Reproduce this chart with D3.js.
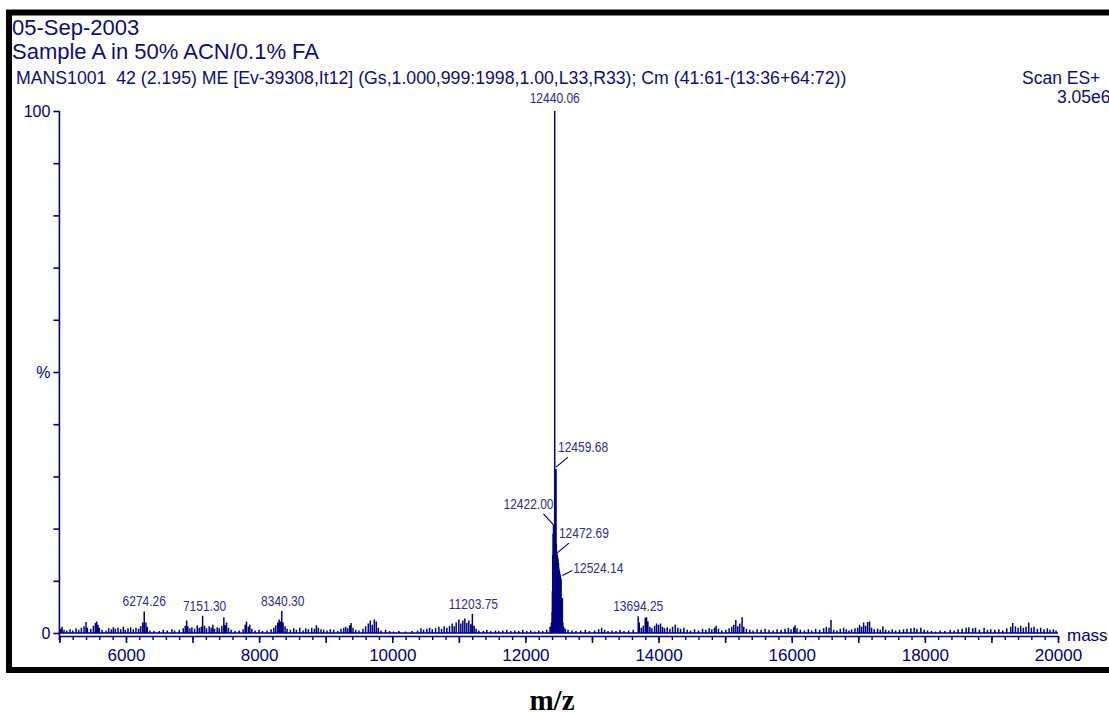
<!DOCTYPE html>
<html>
<head>
<meta charset="utf-8">
<script src="https://cdn.jsdelivr.net/npm/d3@7"></script>
<style>
body { margin: 0; background: #fff; }
svg { display: block; }
text { font-family: "Liberation Sans", Arial, sans-serif; }
</style>
</head>
<body>
<svg id="chart" width="1109" height="715"></svg>
<script>
// header texts
var headerLines = ["05-Sep-2003", "Sample A in 50% ACN/0.1% FA"];
var scanInfo = "MANS1001  42 (2.195) ME [Ev-39308,It12] (Gs,1.000,999:1998,1.00,L33,R33); Cm (41:61-(13:36+64:72))";
var scanMode = "Scan ES+";
var scanMax = "3.05e6";

// axes
var massRange = [5000, 20000];
var massTicks = [6000, 8000, 10000, 12000, 14000, 16000, 18000, 20000];
var pctTicks = [0, 50, 100];
var pctTickText = ["0", "%", "100"];
var xUnit = "mass";
var xTitle = "m/z";

// spectrum sticks [mass, % intensity]
var spectrum = [
  [5020,0.8],[5040,1.2],[5070,0.6],[5110,0.5],[5160,0.7],[5200,0.5],[5250,0.9],[5290,0.6],[5330,1.0],[5370,1.3],
  [5400,2.1],[5420,1.0],[5470,0.8],[5510,1.4],[5540,1.9],[5560,2.2],[5580,1.6],[5600,1.0],[5640,0.6],[5700,0.5],
  [5740,0.9],[5780,0.7],[5810,1.1],[5840,0.8],[5880,1.0],[5920,0.7],[5960,1.2],[5990,0.6],
  [6030,0.9],[6070,1.1],[6110,0.7],[6150,1.0],[6190,0.8],[6220,1.3],[6250,2.0],[6274.26,4.1],[6300,2.0],[6320,1.2],
  [6360,0.5],[6420,0.4],[6500,0.4],[6560,0.6],[6620,0.5],[6690,0.7],[6730,0.5],[6800,0.6],[6860,0.9],[6890,1.4],
  [6912,2.4],[6930,1.3],[6960,0.9],[6990,1.1],
  [7030,0.8],[7070,1.5],[7100,1.0],[7130,1.2],[7151.30,3.3],[7180,1.4],[7210,0.9],[7250,1.3],[7280,1.0],[7305,1.6],
  [7330,0.8],[7370,1.1],[7400,0.9],[7440,1.4],[7470,3.0],[7490,1.5],[7510,2.0],[7540,1.0],[7580,0.6],[7640,0.4],
  [7700,0.5],[7760,0.7],[7790,1.6],[7810,2.2],[7840,1.2],[7860,1.6],[7890,0.8],[7940,0.5],
  [8000,0.6],[8050,0.4],[8120,0.5],[8180,0.7],[8220,1.0],[8250,1.5],[8280,2.0],[8300,2.6],[8320,2.2],[8340.30,4.2],
  [8360,2.0],[8390,1.3],[8420,0.8],[8470,0.6],[8520,0.9],[8560,0.6],[8610,1.0],[8660,0.5],[8700,0.9],[8740,0.7],
  [8790,1.0],[8830,0.8],[8860,1.5],[8890,1.0],[8930,0.7],[8970,0.6],
  [9020,0.5],[9070,0.7],[9120,0.6],[9180,0.4],[9230,0.8],[9270,1.0],[9300,1.2],[9330,0.9],[9360,1.5],[9382,1.9],
  [9410,1.0],[9450,0.6],[9500,0.5],[9560,0.8],[9600,1.3],[9640,1.8],[9670,2.4],[9700,1.6],[9730,2.6],[9760,2.2],
  [9790,1.0],[9830,0.5],[9900,0.6],[9960,0.4],
  [10020,0.3],[10100,0.4],[10200,0.3],[10300,0.4],[10380,0.5],[10430,0.9],[10470,0.6],[10520,0.8],[10560,1.0],
  [10600,0.7],[10650,0.9],[10700,1.2],[10740,0.8],[10780,1.3],[10820,1.0],[10860,1.4],[10900,1.8],[10930,1.3],[10960,2.0],
  [11000,2.6],[11030,1.8],[11060,2.4],[11090,2.8],[11120,1.9],[11150,2.4],[11180,1.7],[11203.75,3.7],[11230,1.4],
  [11260,0.8],[11300,0.5],[11370,0.4],[11420,0.6],[11480,0.4],[11550,0.5],[11600,0.4],[11660,0.5],[11720,0.6],
  [11780,0.4],[11840,0.5],[11900,0.4],[11960,0.6],
  [12020,0.4],[12080,0.5],[12140,0.3],[12200,0.5],[12260,0.4],[12320,0.6],[12370,1.2],[12390,2.0],[12400,4.0],
  [12405,8.0],[12410,15.0],[12415,19.0],[12422.00,20.7],[12428,20.0],[12434,20.5],[12440.06,100],[12446,27.0],
  [12452,29.0],[12459.68,31.4],[12465,17.0],[12472.69,15.3],[12478,15.0],[12484,14.6],[12490,14.2],[12496,13.5],
  [12502,12.6],[12508,12.0],[12514,11.6],[12520,11.2],[12524.14,11.0],[12530,10.6],[12536,10.2],[12542,4.0],
  [12548,3.0],[12555,6.7],[12562,2.0],[12575,1.2],[12600,0.8],[12640,0.6],[12700,0.5],[12760,0.4],[12830,0.5],
  [12900,0.6],[12960,0.4],
  [13040,0.5],[13100,0.7],[13145,1.0],[13190,0.6],[13240,0.4],[13300,0.5],[13360,0.4],[13420,0.6],[13480,0.4],
  [13550,0.5],[13620,0.6],[13694.25,3.2],[13710,2.0],[13740,1.0],[13770,1.4],[13800,2.9],[13820,3.0],[13840,2.2],
  [13870,1.2],[13900,0.9],[13940,1.4],[13970,1.8],[14000,1.6],[14030,1.8],[14060,1.2],[14090,0.9],
  [14130,1.1],[14170,0.8],[14210,1.2],[14250,1.6],[14290,1.0],[14330,0.8],[14380,1.0],[14430,0.6],[14480,0.5],
  [14540,0.7],[14600,0.5],[14660,0.8],[14710,0.6],[14760,0.9],[14800,0.7],[14840,1.0],[14865,1.4],[14900,0.8],[14950,0.5],
  [15010,0.6],[15060,0.9],[15100,1.2],[15130,1.6],[15160,2.5],[15190,1.3],[15220,1.8],[15255,3.0],[15280,1.2],
  [15320,0.8],[15370,0.6],[15420,0.5],[15480,0.7],[15540,0.6],[15600,0.8],[15660,0.6],[15720,0.5],[15780,0.7],
  [15840,0.6],[15900,0.8],[15950,1.0],[15990,0.7],
  [16030,1.1],[16050,1.5],[16080,0.9],[16130,0.6],[16190,0.5],[16250,0.7],[16300,0.5],[16360,0.8],[16420,0.6],
  [16480,0.9],[16520,1.2],[16560,1.0],[16590,2.5],[16630,0.6],[16680,0.5],[16730,0.8],[16780,1.0],[16820,0.7],
  [16860,0.5],[16900,0.7],[16950,0.9],[16990,1.0],
  [17020,1.6],[17050,1.2],[17080,2.0],[17110,1.4],[17140,2.1],[17170,2.2],[17200,1.0],[17240,0.7],[17290,0.8],
  [17330,0.6],[17370,1.3],[17410,0.6],[17460,0.5],[17510,0.7],[17560,0.5],[17620,0.6],[17680,0.7],[17730,0.8],
  [17790,0.9],[17840,1.0],[17880,0.8],[17940,1.0],[17990,0.6],
  [18040,0.5],[18100,0.4],[18160,0.3],[18230,0.5],[18300,0.4],[18380,0.6],[18440,0.5],[18500,0.7],[18560,0.8],
  [18620,1.0],[18660,1.1],[18720,0.9],[18760,1.0],[18820,0.6],[18890,1.0],[18940,0.6],[18990,0.7],
  [19050,0.6],[19110,0.7],[19170,0.5],[19230,0.9],[19290,1.2],[19320,1.9],[19360,1.3],[19400,1.0],[19440,1.4],
  [19480,1.0],[19520,1.2],[19560,2.0],[19600,1.0],[19640,1.2],[19690,0.8],[19740,1.0],[19790,0.7],[19840,0.9],
  [19880,0.6],[19930,0.7],[19970,0.5]
];

// labelled peaks
var peakLabels = [
  {mass: 12440.06, pct: 100,  text: "12440.06"},
  {mass: 12459.68, pct: 31.4, text: "12459.68"},
  {mass: 12422.00, pct: 20.7, text: "12422.00"},
  {mass: 12472.69, pct: 15.3, text: "12472.69"},
  {mass: 12524.14, pct: 11.0, text: "12524.14"},
  {mass: 6274.26,  pct: 4.1,  text: "6274.26"},
  {mass: 7151.30,  pct: 3.3,  text: "7151.30"},
  {mass: 8340.30,  pct: 4.2,  text: "8340.30"},
  {mass: 11203.75, pct: 3.7,  text: "11203.75"},
  {mass: 13694.25, pct: 3.2,  text: "13694.25"}
];

// where each label sits relative to its stick top (layout only)
var labelLayout = {
  "12440.06": {dx: 0,  dy: -8,  anchor: "middle"},
  "12459.68": {dx: 2,  dy: -17, anchor: "start", leader: [[0, -2], [12, -12]]},
  "12422.00": {dx: 0,  dy: -16, anchor: "end",   leader: [[-10, -11], [0, 0]]},
  "12472.69": {dx: 2,  dy: -15, anchor: "start", leader: [[0, 0], [12, -10]]},
  "12524.14": {dx: 13, dy: -3,  anchor: "start", leader: [[2, 0], [12, -5]]},
  "6274.26":  {dx: 0,  dy: -6,  anchor: "middle"},
  "7151.30":  {dx: 2,  dy: -5,  anchor: "middle"},
  "8340.30":  {dx: 1,  dy: -5,  anchor: "middle"},
  "11203.75": {dx: 1,  dy: -5,  anchor: "middle"},
  "13694.25": {dx: 0,  dy: -5,  anchor: "middle"}
};

var navy = "#000080";
var textNavy = "#0d0d80";
var labelNavy = "#2e2e92";

var svg = d3.select("#chart");

// outer frame
svg.append("rect")
    .attr("x", 9).attr("y", 12.5)
    .attr("width", 1120).attr("height", 657.5)
    .attr("fill", "none")
    .attr("stroke", "#000")
    .attr("stroke-width", 6);

var x = d3.scaleLinear().domain(massRange).range([59.4, 1058]);
var y = d3.scaleLinear().domain([0, 100]).range([633, 111]);

// header
svg.selectAll(".head")
    .data(headerLines)
    .enter().append("text")
    .attr("class", "head")
    .attr("x", 12)
    .attr("y", function(d, i) { return 35 + i * 24; })
    .style("font-size", "22px")
    .style("fill", textNavy)
    .text(function(d) { return d; });

svg.append("text")
    .attr("x", 16).attr("y", 84)
    .attr("xml:space", "preserve")
    .style("white-space", "pre")
    .style("font-size", "17.7px")
    .style("fill", textNavy)
    .text(scanInfo);

svg.append("text")
    .attr("x", 1022).attr("y", 84)
    .style("font-size", "17.5px")
    .style("fill", textNavy)
    .text(scanMode);

svg.append("text")
    .attr("x", 1057).attr("y", 103)
    .style("font-size", "17.5px")
    .style("fill", textNavy)
    .text(scanMax);

// y axis
var yAxis = svg.append("g")
    .attr("transform", "translate(59.4,0)")
    .call(d3.axisLeft(y)
        .tickValues(d3.range(0, 101, 10))
        .tickSize(6)
        .tickSizeOuter(0)
        .tickPadding(3)
        .tickFormat(function(d) {
            var i = pctTicks.indexOf(d);
            return i < 0 ? "" : pctTickText[i];
        }));
yAxis.selectAll("path, line").attr("stroke", navy).attr("stroke-width", 1.6);
yAxis.select(".domain").attr("d", "M0," + y(100) + "V" + 640);
yAxis.selectAll("text")
    .style("font-size", "16px")
    .style("font-family", "'Liberation Sans', Arial, sans-serif")
    .attr("fill", navy);

// x axis: minor ticks every 200, long every 1000, labels every 2000
var axisY = 636;
var minorAxis = svg.append("g")
    .attr("transform", "translate(0," + axisY + ")")
    .call(d3.axisBottom(x)
        .tickValues(d3.range(massRange[0], massRange[1] + 1, 200))
        .tickSize(4)
        .tickSizeOuter(0)
        .tickFormat(""));
minorAxis.selectAll("path, line").attr("stroke", navy).attr("stroke-width", 1.4);

var majorAxis = svg.append("g")
    .attr("transform", "translate(0," + axisY + ")")
    .call(d3.axisBottom(x)
        .tickValues(d3.range(massRange[0], massRange[1] + 1, 1000))
        .tickSize(7)
        .tickSizeOuter(0)
        .tickPadding(6)
        .tickFormat(function(d) { return massTicks.indexOf(d) >= 0 ? d : ""; }));
majorAxis.select(".domain").remove();
majorAxis.selectAll("line").attr("stroke", navy).attr("stroke-width", 1.6);
majorAxis.selectAll("text")
    .style("font-size", "17px")
    .style("font-family", "'Liberation Sans', Arial, sans-serif")
    .attr("fill", navy);

svg.append("text")
    .attr("x", x(massRange[1]) + 9).attr("y", 641)
    .style("font-size", "17px")
    .style("fill", navy)
    .text(xUnit);

// spectrum baseline + sticks
svg.append("line")
    .attr("x1", x(massRange[0])).attr("x2", x(massRange[1]))
    .attr("y1", y(0)).attr("y2", y(0))
    .attr("stroke", navy)
    .attr("stroke-width", 1.6);

svg.append("path")
    .attr("d", spectrum.map(function(d) {
        return "M" + x(d[0]).toFixed(2) + "," + y(0) + "V" + y(d[1]).toFixed(2);
    }).join(""))
    .attr("stroke", navy)
    .attr("stroke-width", 1.5)
    .attr("fill", "none");

// peak labels
var lab = svg.selectAll(".peak")
    .data(peakLabels)
    .enter().append("g")
    .attr("class", "peak")
    .attr("transform", function(d) { return "translate(" + x(d.mass) + "," + y(d.pct) + ")"; });

lab.filter(function(d) { return labelLayout[d.text].leader; })
    .append("line")
    .attr("x1", function(d) { return labelLayout[d.text].leader[0][0]; })
    .attr("y1", function(d) { return labelLayout[d.text].leader[0][1]; })
    .attr("x2", function(d) { return labelLayout[d.text].leader[1][0]; })
    .attr("y2", function(d) { return labelLayout[d.text].leader[1][1]; })
    .attr("stroke", navy)
    .attr("stroke-width", 1.2);

lab.append("text")
    .attr("transform", function(d) {
        var l = labelLayout[d.text];
        return "translate(" + l.dx + "," + l.dy + ") scale(0.8,1)";
    })
    .attr("text-anchor", function(d) { return labelLayout[d.text].anchor; })
    .style("font-size", "15px")
    .style("fill", labelNavy)
    .text(function(d) { return d.text; });

// bottom title
svg.append("text")
    .attr("x", 552).attr("y", 710)
    .attr("text-anchor", "middle")
    .style("font-family", "'Liberation Serif', 'Times New Roman', serif")
    .style("font-weight", "bold")
    .style("font-size", "29px")
    .style("fill", "#000")
    .text(xTitle);
</script>
</body>
</html>
